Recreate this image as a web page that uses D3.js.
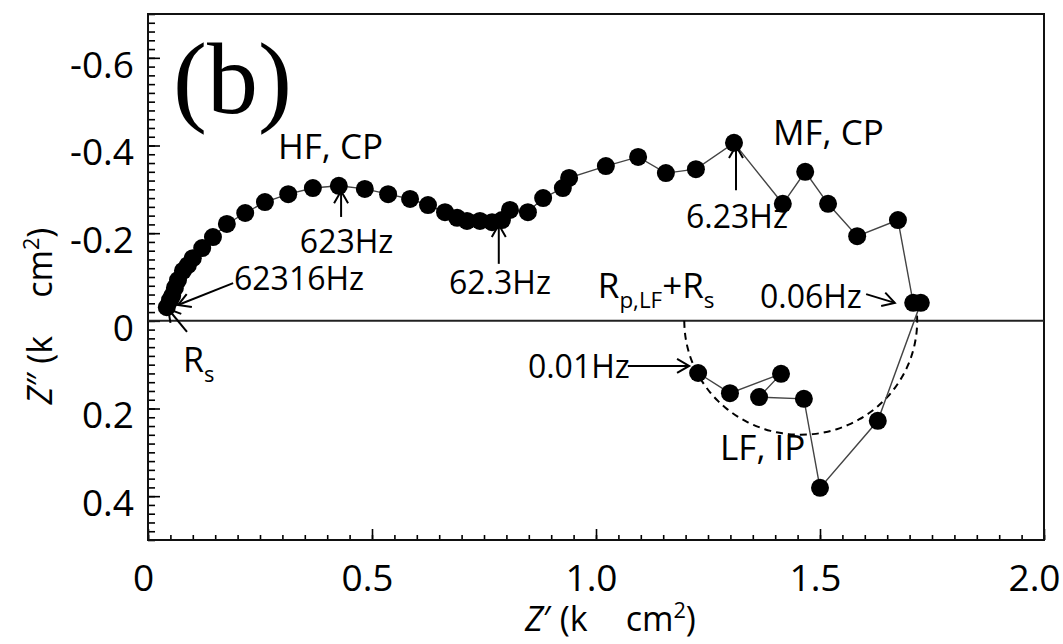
<!DOCTYPE html>
<html>
<head>
<meta charset="utf-8">
<script src="https://cdn.jsdelivr.net/npm/d3@7"></script>
<style>
  body { margin: 0; background: #fff; }
  svg { display: block; font-family: 'Open Sans', sans-serif; }
</style>
</head>
<body>
<div id="chart"></div>
<script>
// Nyquist data, Z' and Z'' in kOhm cm2 (Z'' negative = capacitive, drawn upward)
const zReal = [
  0.042, 0.049, 0.054, 0.060, 0.067, 0.078, 0.089, 0.100, 0.121, 0.145,
  0.176, 0.217, 0.261, 0.313, 0.368, 0.426, 0.484, 0.536, 0.585, 0.625,
  0.663, 0.690, 0.712, 0.741, 0.768, 0.790, 0.808, 0.848, 0.882, 0.926,
  0.940, 1.022, 1.094, 1.156, 1.223, 1.308, 1.417, 1.467, 1.518, 1.583,
  1.674, 1.708, 1.725, 1.629, 1.500, 1.464, 1.364, 1.413, 1.299, 1.228
];
const zImag = [
  -0.031, -0.047, -0.057, -0.075, -0.093, -0.114, -0.127, -0.143, -0.166, -0.191,
  -0.221, -0.246, -0.271, -0.289, -0.303, -0.308, -0.301, -0.289, -0.278, -0.264,
  -0.248, -0.235, -0.228, -0.228, -0.225, -0.230, -0.253, -0.248, -0.280, -0.303,
  -0.326, -0.353, -0.374, -0.337, -0.346, -0.406, -0.267, -0.340, -0.267, -0.193,
  -0.230, -0.041, -0.041, 0.228, 0.381, 0.178, 0.174, 0.121, 0.165, 0.119
];

const xTickValues = [0, 0.5, 1.0, 1.5, 2.0];
const xTickLabels = ['0', '0.5', '1.0', '1.5', '2.0'];
const yTickValues = [-0.6, -0.4, -0.2, 0, 0.2, 0.4];
const yTickLabels = ['-0.6', '-0.4', '-0.2', '0', '0.2', '0.4'];

// fitted low-frequency semicircle (data units)
const arcCenter = 1.457;
const arcRadius = 0.26;

const width = 1063;
const height = 644;

const svg = d3.select('#chart')
  .append('svg')
  .attr('width', width)
  .attr('height', height);

const x = d3.scaleLinear().domain([0, 2]).range([148, 1044]);
const y = d3.scaleLinear().domain([-0.7, 0.5]).range([14, 540]);

const points = zReal.map((v, i) => ({ re: v, im: zImag[i] }));

// Axes (ticks point inward)
const xMinor = d3.range(0, 2.0001, 0.05);
const yMinor = d3.range(-0.7, 0.5001, 0.02);

const xAxisG = svg.append('g').attr('transform', `translate(0,${y.range()[1]})`);
xAxisG.append('g')
  .call(d3.axisBottom(x).tickValues(xMinor).tickSize(-5).tickFormat(''))
  .call(g => g.select('.domain').remove());
xAxisG.append('g')
  .call(d3.axisBottom(x).tickValues(xTickValues).tickSize(-11).tickPadding(25)
    .tickFormat((d, i) => xTickLabels[i]))
  .call(g => g.select('.domain').remove())
  .call(g => g.selectAll('text')
    .attr('dx', (d, i) => i === xTickValues.length - 1 ? -10 : -5)
    .attr('fill', '#000')
    .attr('font-size', 37)
    .attr('font-family', "'Open Sans', sans-serif"));

const yAxisG = svg.append('g').attr('transform', `translate(${x.range()[0]},0)`);
yAxisG.append('g')
  .call(d3.axisLeft(y).tickValues(yMinor).tickSize(-7).tickFormat(''))
  .call(g => g.select('.domain').remove());
yAxisG.append('g')
  .call(d3.axisLeft(y).tickValues(yTickValues).tickSize(-12).tickPadding(14)
    .tickFormat((d, i) => yTickLabels[i]))
  .call(g => g.select('.domain').remove())
  .call(g => g.selectAll('text')
    .attr('dy', '0.52em')
    .attr('fill', '#000')
    .attr('font-size', 37)
    .attr('font-family', "'Open Sans', sans-serif"));

svg.selectAll('.tick line').attr('stroke', '#000').attr('stroke-width', 1.6);

// Frame and zero line
svg.append('rect')
  .attr('x', x.range()[0])
  .attr('y', y.range()[0])
  .attr('width', x.range()[1] - x.range()[0])
  .attr('height', y.range()[1] - y.range()[0])
  .attr('fill', 'none')
  .attr('stroke', '#111')
  .attr('stroke-width', 2);

svg.append('line')
  .attr('x1', x(0)).attr('x2', x(2))
  .attr('y1', y(0)).attr('y2', y(0))
  .attr('stroke', '#222')
  .attr('stroke-width', 2);

// Semicircle fit (dashed)
const arcAngles = d3.range(180, -10.5, -3).map(a => a * Math.PI / 180);
svg.append('path')
  .datum(arcAngles)
  .attr('fill', 'none')
  .attr('stroke', '#000')
  .attr('stroke-width', 2)
  .attr('stroke-dasharray', '7,5')
  .attr('d', d3.line()
    .x(t => x(arcCenter + arcRadius * Math.cos(t)))
    .y(t => y(arcRadius * Math.sin(t)))
    .curve(d3.curveBasis));

// Connecting line and markers
svg.append('path')
  .datum(points)
  .attr('fill', 'none')
  .attr('stroke', '#444')
  .attr('stroke-width', 1.4)
  .attr('d', d3.line().x(d => x(d.re)).y(d => y(d.im)));

svg.append('g')
  .selectAll('circle')
  .data(points)
  .join('circle')
  .attr('cx', d => x(d.re))
  .attr('cy', d => y(d.im))
  .attr('r', 9)
  .attr('fill', '#000');

// Arrows (data coordinates: from -> tip)
const arrows = [
  { x1: 0.431, y1: -0.237, x2: 0.431, y2: -0.296 },   // 623Hz
  { x1: 0.783, y1: -0.130, x2: 0.783, y2: -0.219 },   // 62.3Hz
  { x1: 1.3125, y1: -0.298, x2: 1.3125, y2: -0.399 }, // 6.23Hz
  { x1: 0.190, y1: -0.086, x2: 0.067, y2: -0.036 },   // 62316Hz
  { x1: 0.087, y1: 0.025, x2: 0.045, y2: -0.027 },    // Rs
  { x1: 1.603, y1: -0.061, x2: 1.667, y2: -0.041 },   // 0.06Hz
  { x1: 1.071, y1: 0.103, x2: 1.208, y2: 0.103 }      // 0.01Hz
];

const arrowG = svg.append('g')
  .attr('stroke', '#000')
  .attr('stroke-width', 2)
  .attr('fill', 'none');

arrows.forEach(a => {
  const px1 = x(a.x1), py1 = y(a.y1), px2 = x(a.x2), py2 = y(a.y2);
  const ang = Math.atan2(py2 - py1, px2 - px1);
  const wing = 14, spread = Math.PI / 6;
  arrowG.append('line').attr('x1', px1).attr('y1', py1).attr('x2', px2).attr('y2', py2);
  arrowG.append('path').attr('d',
    `M${px2 - wing * Math.cos(ang - spread)},${py2 - wing * Math.sin(ang - spread)}` +
    `L${px2},${py2}` +
    `L${px2 - wing * Math.cos(ang + spread)},${py2 - wing * Math.sin(ang + spread)}`);
});

// Text labels: parts can be subscript / superscript / italic
function addLabel(parent, opts) {
  const t = parent.append('text')
    .attr('x', opts.x)
    .attr('y', opts.y)
    .attr('font-size', opts.size)
    .attr('fill', '#000')
    .attr('text-anchor', opts.anchor || 'start');
  if (opts.family) t.attr('font-family', opts.family);
  if (opts.transform) t.attr('transform', opts.transform);
  let shift = 0;
  opts.parts.forEach(p => {
    const s = t.append('tspan').text(p.t);
    let target = 0;
    if (p.sub) { target = opts.size * 0.28; s.attr('font-size', opts.size * 0.64); }
    if (p.sup) { target = -opts.size * 0.38; s.attr('font-size', opts.size * 0.64); }
    if (target - shift !== 0) s.attr('dy', target - shift);
    shift = target;
    if (p.italic) s.attr('font-style', 'italic');
    if (p.dx) s.attr('dx', p.dx);
  });
  return t;
}

const labels = [
  { x: 0.056, y: -0.474, size: 102, family: "'Liberation Serif', serif", parts: [{ t: '(b)' }] },
  { x: 0.290, y: -0.369, size: 35, parts: [{ t: 'HF, CP' }] },
  { x: 1.395, y: -0.401, size: 35, parts: [{ t: 'MF, CP' }] },
  { x: 0.339, y: -0.155, size: 32, parts: [{ t: '623Hz' }] },
  { x: 0.192, y: -0.070, size: 32, parts: [{ t: '62316Hz' }] },
  { x: 0.672, y: -0.061, size: 32, parts: [{ t: '62.3Hz' }] },
  { x: 1.201, y: -0.212, size: 32, parts: [{ t: '6.23Hz' }] },
  { x: 1.366, y: -0.029, size: 32, parts: [{ t: '0.06Hz' }] },
  { x: 0.848, y: 0.131, size: 32, parts: [{ t: '0.01Hz' }] },
  { x: 1.277, y: 0.317, size: 35, parts: [{ t: 'LF, IP' }] },
  { x: 1.004, y: -0.052, size: 35, parts: [{ t: 'R' }, { t: 'p,LF', sub: true }, { t: '+R' }, { t: 's', sub: true }] },
  { x: 0.078, y: 0.117, size: 34, parts: [{ t: 'R' }, { t: 's', sub: true }] }
];

const labelG = svg.append('g');
labels.forEach(l => addLabel(labelG, Object.assign({}, l, { x: x(l.x), y: y(l.y) })));

// Axis titles (the Ω glyph is missing in the original, leaving a gap)
addLabel(svg, {
  x: 525, y: 631, size: 34,
  parts: [{ t: 'Z', italic: true }, { t: '′ (k' }, { t: 'cm', dx: 38 }, { t: '2', sup: true }, { t: ')' }]
});
addLabel(svg, {
  x: 0, y: 0, size: 34, anchor: 'middle',
  transform: 'translate(52,316) rotate(-90)',
  parts: [{ t: 'Z', italic: true }, { t: '″ (k' }, { t: 'cm', dx: 38 }, { t: '2', sup: true }, { t: ')' }]
});
</script>
</body>
</html>
